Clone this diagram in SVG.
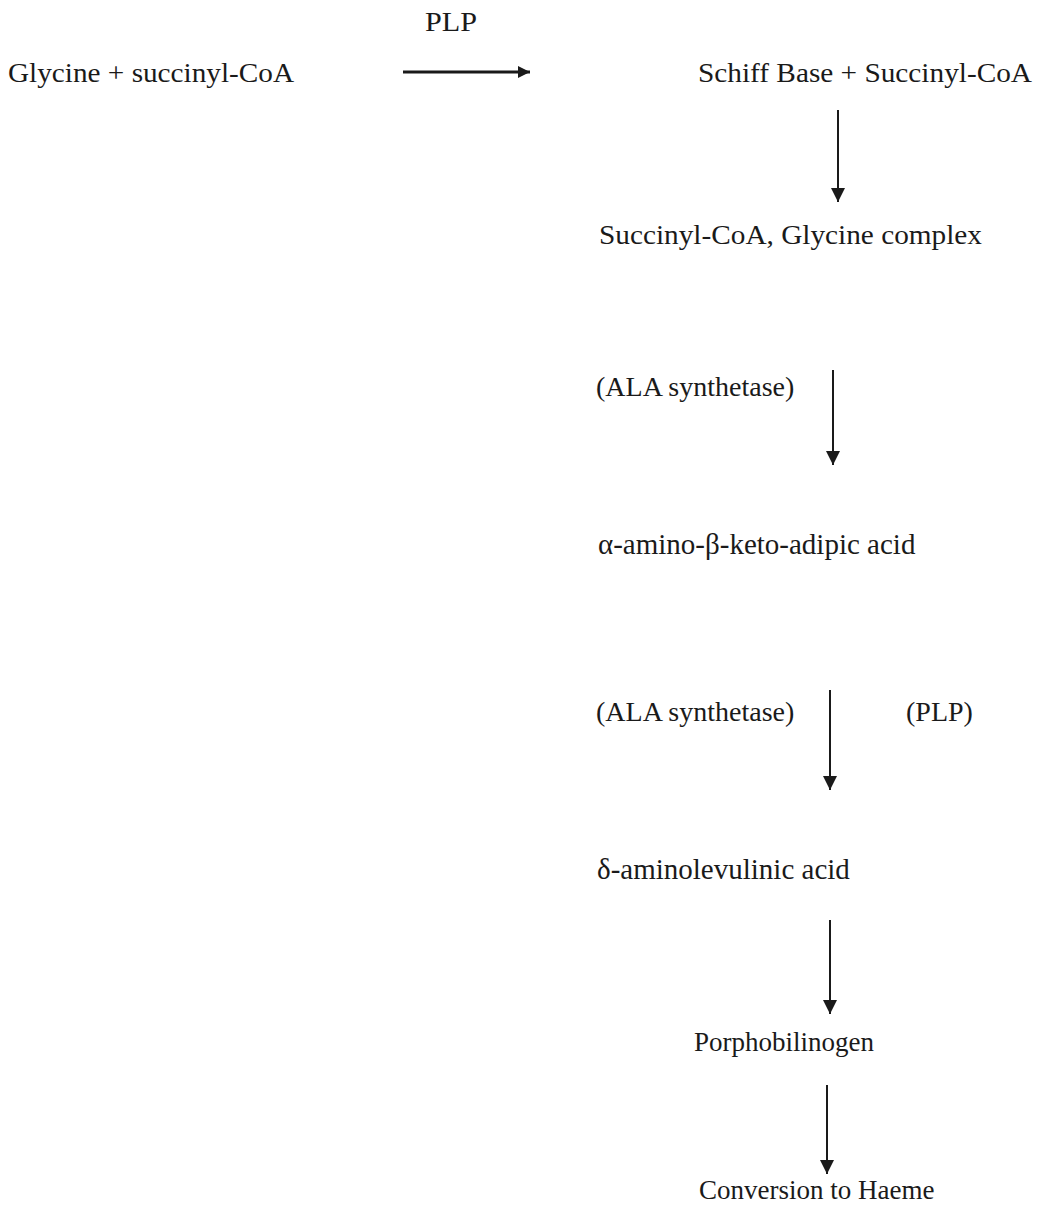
<svg xmlns="http://www.w3.org/2000/svg" width="1039" height="1206" viewBox="0 0 1039 1206">
<style>
text{font-family:"Liberation Serif","Times New Roman",serif;font-size:28px;fill:#1a1a1a}
.g{font-size:29px}
.s{font-size:27px}
.c line{stroke:#1a1a1a;stroke-width:2}
</style>
<defs>
<marker id="ah" viewBox="0 0 10 10" refX="10" refY="5" markerWidth="13" markerHeight="12" markerUnits="userSpaceOnUse" orient="auto"><path d="M0,0 L10,5 L0,10 z" fill="#1a1a1a"/></marker>
<marker id="av" viewBox="0 0 10 10" refX="10" refY="5" markerWidth="15" markerHeight="14" markerUnits="userSpaceOnUse" orient="auto"><path d="M0,0 L10,5 L0,10 z" fill="#1a1a1a"/></marker>
</defs>
<rect width="1039" height="1206" fill="#fff"/>
<g id="plp1"><text x="425" y="31" textLength="52" lengthAdjust="spacingAndGlyphs">PLP</text></g>
<g id="n1"><text x="8" y="82" textLength="286" lengthAdjust="spacingAndGlyphs">Glycine + succinyl-CoA</text></g>
<g id="n2"><text x="698" y="82" textLength="334" lengthAdjust="spacingAndGlyphs">Schiff  Base + Succinyl-CoA</text></g>
<g id="n3"><text x="599" y="244" textLength="383" lengthAdjust="spacingAndGlyphs">Succinyl-CoA, Glycine complex</text></g>
<g id="e1"><text x="596" y="396">(ALA synthetase)</text></g>
<g id="n4"><text class="g" x="598" y="554">α-amino-β-keto-adipic acid</text></g>
<g id="e2"><text x="596" y="721">(ALA synthetase)</text></g>
<g id="plp2"><text x="906" y="721">(PLP)</text></g>
<g id="n5"><text class="g" x="597" y="879">δ-aminolevulinic acid</text></g>
<g id="n6"><text class="s" x="694" y="1051">Porphobilinogen</text></g>
<g id="n7"><text class="s" x="699" y="1199">Conversion to Haeme</text></g>
<g class="c" id="connectors">
<line x1="403" y1="72" x2="530" y2="72" style="stroke-width:3" marker-end="url(#ah)"/>
<line x1="838" y1="110" x2="838" y2="202" marker-end="url(#av)"/>
<line x1="833" y1="370" x2="833" y2="465" marker-end="url(#av)"/>
<line x1="830" y1="690" x2="830" y2="790" marker-end="url(#av)"/>
<line x1="830" y1="920" x2="830" y2="1014" marker-end="url(#av)"/>
<line x1="827" y1="1085" x2="827" y2="1174" marker-end="url(#av)"/>
</g>
</svg>
